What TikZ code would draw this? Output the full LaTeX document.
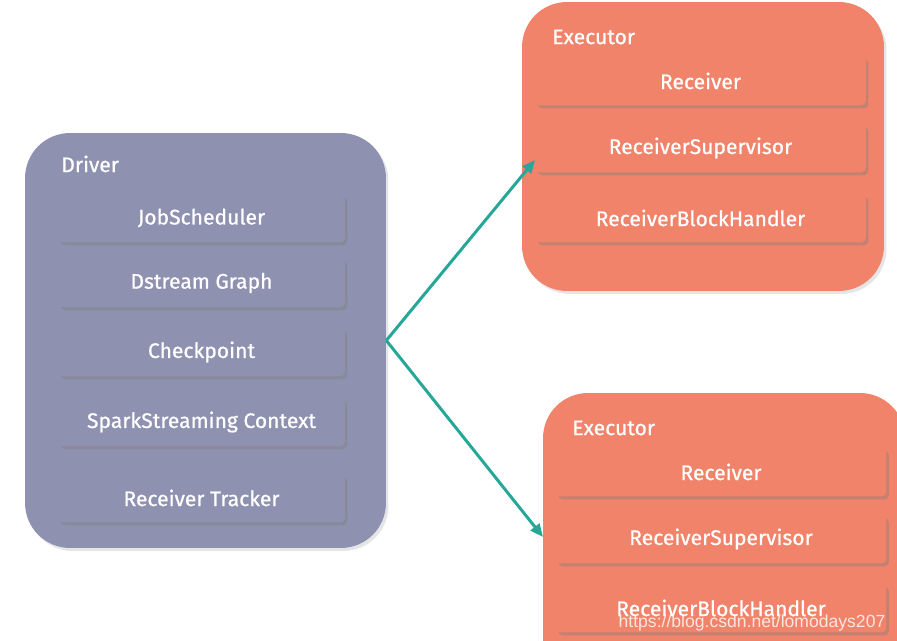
\documentclass[tikz,border=0pt]{standalone}
\usepackage{fontspec}
\setmainfont{Fira Sans}
\newfontfamily\boxfont[FakeBold=0.7]{Fira Sans}
\newfontfamily\wmfont{Liberation Sans}
\usetikzlibrary{arrows.meta,shadows}
\definecolor{drivercol}{HTML}{8E92B0}
\definecolor{execcol}{HTML}{F0836A}
\definecolor{linkcol}{HTML}{26A797}
\tikzset{
  outerbox/.style={rounded corners=0.9cm, inner sep=0pt,
    drop shadow={shadow xshift=0.05cm, shadow yshift=-0.06cm, opacity=0.2}},
  innerbox/.style={rounded corners=0.1cm, inner sep=0pt, minimum height=0.98cm,
    text=white, font=\boxfont\fontsize{12}{14}\selectfont,
    drop shadow={shadow xshift=0.05cm, shadow yshift=-0.06cm, opacity=0.4}},
  drvbox/.style={innerbox, fill=drivercol, minimum width=5.74cm},
  exebox/.style={innerbox, fill=execcol, minimum width=6.62cm},
  boxtitle/.style={anchor=west, inner sep=0pt, text=white, font=\boxfont\fontsize{12}{14}\selectfont},
  link/.style={draw=linkcol, line width=0.06cm, -{Triangle[length=0.26cm,width=0.22cm]}}
}

\begin{document}
\begin{tikzpicture}[x=0.02cm, y=-0.02cm]
		%%%%% START %%%%%
		\clip (0,0) rectangle (897,641);
		\fill[white] (0,0) rectangle (897,641);
		
		% driver side
		\node[outerbox, fill=drivercol, minimum width=7.22cm, minimum height=8.3cm] (driver) at (205.5,340.5) {};
		\node[boxtitle] (drvtitle) at (61,164) {Driver};
		\node[drvbox] (jobsched) at (201.5,218) {JobScheduler};
		\node[drvbox] (dsgraph) at (201.5,283) {Dstream Graph};
		\node[drvbox] (ckpt) at (201.5,352) {Checkpoint};
		\node[drvbox] (sscontext) at (201.5,422) {SparkStreaming Context};
		\node[drvbox] (rcvtracker) at (201.5,498) {Receiver Tracker};
		
		% first executor
		\node[outerbox, fill=execcol, minimum width=7.24cm, minimum height=5.78cm] (exec1) at (703,146.5) {};
		\node[boxtitle] (exectitle1) at (552,37) {Executor};
		\node[exebox] (rcv1) at (700.5,81) {Receiver};
		\node[exebox] (rcvsup1) at (700.5,148) {ReceiverSupervisor};
		\node[exebox] (blkhandler1) at (700.5,218) {ReceiverBlockHandler};
		
		% second executor, cut off at the page edge
		\node[outerbox, fill=execcol, minimum width=7.24cm, minimum height=5.78cm] (exec2) at (724,537.5) {};
		\node[boxtitle] (exectitle2) at (572,428) {Executor};
		\node[exebox] (rcv2) at (721,472) {Receiver};
		\node[exebox] (rcvsup2) at (721,539) {ReceiverSupervisor};
		\node[exebox] (blkhandler2) at (721,608) {ReceiverBlockHandler};
		
		% links
		\coordinate (tip1) at (535,160);
		\coordinate (tip2) at (543,537);
		\draw[link] (driver.east) -- (tip1);
		\draw[link] (driver.east) -- (tip2);
		
		\node[text=white, opacity=0.8, font=\wmfont\fontsize{10}{12}\selectfont, inner sep=0pt] (watermark) at (752,623) {https://blog.csdn.net/lomodays207};
		%%%%% END %%%%%
\end{tikzpicture}
\end{document}
